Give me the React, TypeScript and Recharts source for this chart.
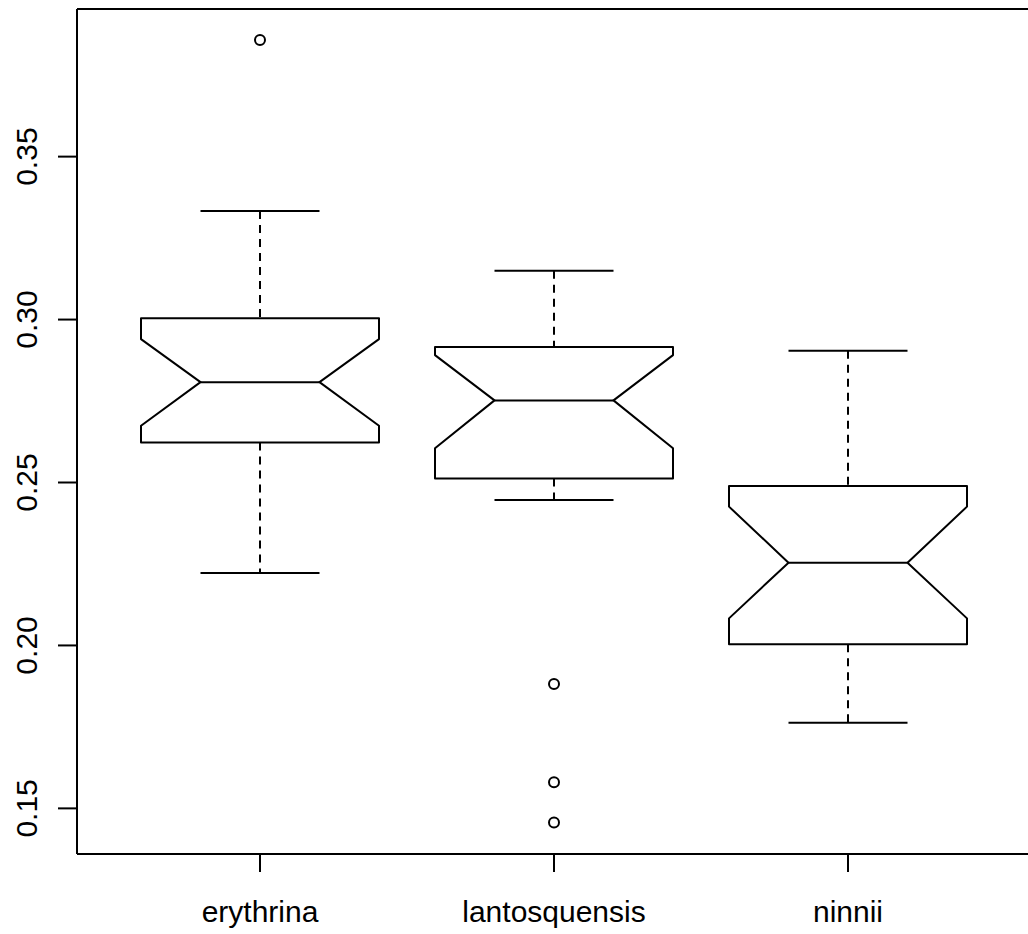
import React from 'react';
import { ComposedChart, Bar, Scatter, XAxis, YAxis } from 'recharts';

// per-species box statistics (notched boxplot)
const species = ['erythrina', 'lantosquensis', 'ninnii'];
const lowerWhisker = [0.2222, 0.2446, 0.1763];
const lowerHinge = [0.2623, 0.2512, 0.2004];
const medians = [0.2808, 0.2752, 0.2254];
const upperHinge = [0.3004, 0.2916, 0.2489];
const upperWhisker = [0.3333, 0.315, 0.2904];
const notchLow = [0.2674, 0.2605, 0.2083];
const notchHigh = [0.294, 0.2891, 0.2426];

// points beyond the whiskers
const outlierSpecies = ['erythrina', 'lantosquensis', 'lantosquensis', 'lantosquensis'];
const outlierValues = [0.3858, 0.1882, 0.158, 0.1457];

const yTicks = [0.15, 0.2, 0.25, 0.3, 0.35];
const yDomain = [0.136, 0.3953];

const FONT = '"Liberation Sans", Arial, Helvetica, sans-serif';
const frameLine = { stroke: '#000', strokeWidth: 2 };

const boxes = species.map((name, i) => ({
  name,
  hinges: [lowerHinge[i], upperHinge[i]],
  q1: lowerHinge[i],
  q3: upperHinge[i],
  med: medians[i],
  lo: lowerWhisker[i],
  hi: upperWhisker[i],
  nLo: notchLow[i],
  nHi: notchHigh[i],
}));

const outliers = outlierValues.map((value, i) => ({ name: outlierSpecies[i], value }));

// the bar rect spans q1..q3, so its pixel height gives the value->pixel factor
const NotchedBox = (props: any) => {
  const { x, y, width, height, payload } = props;
  const { q1, q3, med, lo, hi, nLo, nHi } = payload;
  const k = Math.abs(height) / (q3 - q1);
  const top = Math.min(y, y + height);
  const py = (v: number) => top + (q3 - v) * k;
  const cx = x + width / 2;
  const r = x + width;
  const q = width / 4;
  const pts = [
    [x, py(q3)], [r, py(q3)], [r, py(nHi)], [cx + q, py(med)], [r, py(nLo)],
    [r, py(q1)], [x, py(q1)], [x, py(nLo)], [cx - q, py(med)], [x, py(nHi)],
  ].map((p) => p.join(',')).join(' ');
  const s = { stroke: '#000', strokeWidth: 2, fill: 'none' };
  return (
    <g>
      <line x1={cx} x2={cx} y1={py(hi)} y2={py(q3)} {...s} strokeDasharray="8 6" />
      <line x1={cx} x2={cx} y1={py(q1)} y2={py(lo)} {...s} strokeDasharray="8 6" />
      <line x1={cx - q} x2={cx + q} y1={py(hi)} y2={py(hi)} {...s} />
      <line x1={cx - q} x2={cx + q} y1={py(lo)} y2={py(lo)} {...s} />
      <polygon points={pts} {...s} fill="#fff" strokeLinejoin="round" />
      <line x1={cx - q} x2={cx + q} y1={py(med)} y2={py(med)} {...s} />
    </g>
  );
};

const OpenCircle = (props: any) => (
  <circle cx={props.cx} cy={props.cy} r={5} fill="none" stroke="#000" strokeWidth={2} />
);

const YTick = (props: any) => {
  const { x, y, payload } = props;
  const bx = x - 19;
  return (
    <text x={bx} y={y} transform={`rotate(-90, ${bx}, ${y})`} textAnchor="middle"
      fontFamily={FONT} fontSize={30} fill="#000">
      {payload.value.toFixed(2)}
    </text>
  );
};

const XTick = (props: any) => {
  const { x, y, payload } = props;
  return (
    <text x={x} y={y + 48} textAnchor="middle" fontFamily={FONT} fontSize={30} fill="#000">
      {payload.value}
    </text>
  );
};

export default function App() {
  return (
    <div style={{ position: 'absolute', left: 0, top: 0, width: 1028, height: 934, overflow: 'hidden', background: '#fff' }}>
      <ComposedChart width={1040} height={934} data={boxes}
        margin={{ top: 8, right: 10, bottom: 0, left: 0 }}>
        <XAxis dataKey="name" type="category" allowDuplicatedCategory={false}
          padding={{ left: 36, right: 35 }} height={80} axisLine={frameLine}
          tickSize={18} tickLine={frameLine} tick={<XTick />} />
        {/* top edge of the frame */}
        <XAxis xAxisId="frameTop" orientation="top" dataKey="name" type="category"
          allowDuplicatedCategory={false} height={1} axisLine={frameLine}
          tick={false} tickLine={false} />
        <YAxis type="number" domain={yDomain} ticks={yTicks} width={77} axisLine={frameLine}
          allowDataOverflow tickSize={19} tickLine={frameLine} tick={<YTick />} />
        <Bar dataKey="hinges" barSize={238} shape={<NotchedBox />} isAnimationActive={false} />
        <Scatter data={outliers} dataKey="value" shape={<OpenCircle />} isAnimationActive={false} />
      </ComposedChart>
    </div>
  );
}
